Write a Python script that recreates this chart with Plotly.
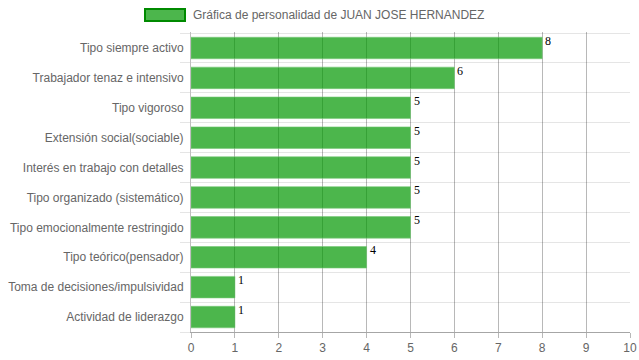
import plotly.graph_objects as go

categories = [
    "Tipo siempre activo",
    "Trabajador tenaz e intensivo",
    "Tipo vigoroso",
    "Extensión social(sociable)",
    "Interés en trabajo con detalles",
    "Tipo organizado (sistemático)",
    "Tipo emocionalmente restringido",
    "Tipo teórico(pensador)",
    "Toma de decisiones/impulsividad",
    "Actividad de liderazgo",
]
values = [8, 6, 5, 5, 5, 5, 5, 4, 1, 1]
series_name = "Gráfica de personalidad de JUAN JOSE HERNANDEZ"
x_ticks = list(range(0, 11))

grey = "#666666"
fig = go.Figure()
fig.add_trace(go.Bar(
    x=values, y=categories, orientation="h",
    marker=dict(color="rgba(0,151,0,0.7)", line=dict(width=1, color="rgba(120,200,120,0.6)")),
    name=series_name, showlegend=False,
))

for c, v in zip(categories, values):
    fig.add_annotation(x=v, y=c, text=str(v), showarrow=False,
                       xanchor="left", yanchor="middle", xshift=1, yshift=7,
                       font=dict(family="Liberation Serif, Times New Roman, serif", size=12, color="#000"))

# legend drawn as box + text
fig.add_shape(type="rect", xref="paper", yref="paper",
              x0=(145 - 191) / 439, x1=(185 - 191) / 439,
              y0=1 + (32 - 21) / 300, y1=1 + (32 - 9) / 300,
              fillcolor="rgba(0,151,0,0.7)", line=dict(color="#008a00", width=2))
fig.add_annotation(xref="paper", yref="paper", x=(191 - 191) / 439, y=1 + (32 - 15) / 300,
                   text=series_name, showarrow=False, xanchor="left", yanchor="middle",
                   font=dict(family="Liberation Sans, Arial, sans-serif", size=12, color=grey))

fig.update_layout(
    width=639, height=360,
    margin=dict(l=191, r=9, t=32, b=28, autoexpand=False),
    plot_bgcolor="white", paper_bgcolor="white",
    bargap=0.28,
    font=dict(family="Liberation Sans, Arial, sans-serif", size=12, color=grey),
    xaxis=dict(range=[0, 10], tickvals=x_ticks, showgrid=True, automargin=False,
               gridcolor="rgba(0,0,0,0.28)", gridwidth=1, ticklabeloverflow="allow",
               ticks="outside", ticklen=5, tickcolor="rgba(0,0,0,0.28)",
               showline=True, linecolor="rgba(0,0,0,0.35)", linewidth=1,
               zeroline=False, tickfont=dict(size=12, color=grey), fixedrange=True),
    yaxis=dict(categoryorder="array", categoryarray=categories[::-1], automargin=False,
               tickson="boundaries", showgrid=True, gridcolor="rgba(0,0,0,0.1)",
               ticks="outside", ticklen=10, tickcolor="rgba(0,0,0,0.1)",
               ticklabelstandoff=4,
               showline=True, linecolor="rgba(0,0,0,0.25)", linewidth=1,
               tickfont=dict(size=12, color=grey), fixedrange=True),
)

fig.write_html(
    "out.html",
    config={"displayModeBar": False},
    post_script="document.body.style.margin='0';document.body.style.overflow='hidden';",
)
